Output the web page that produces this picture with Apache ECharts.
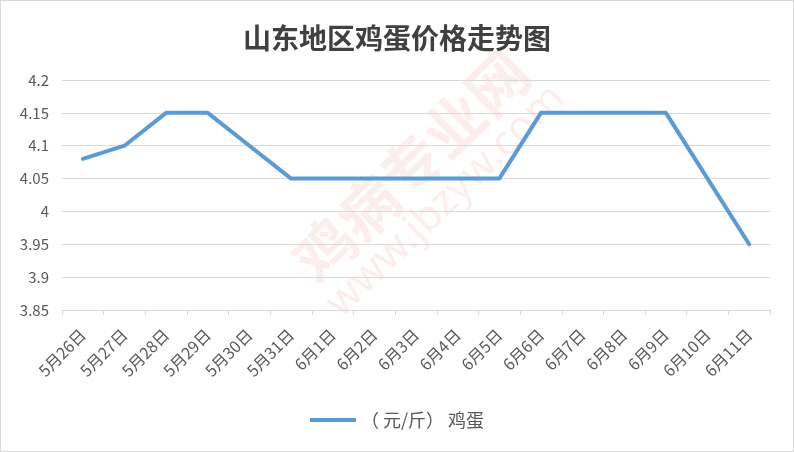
<!DOCTYPE html>
<html><head><meta charset="utf-8">
<script src="https://cdn.jsdelivr.net/npm/echarts@6/dist/echarts.min.js"></script>
<style>html,body{margin:0;padding:0;background:#fff}#c{width:794px;height:452px;box-sizing:border-box;border:1px solid #d9d9d9}</style>
</head><body><div id="c"></div>
<script>
var categories = ['5月26日','5月27日','5月28日','5月29日','5月30日','5月31日','6月1日','6月2日','6月3日','6月4日','6月5日','6月6日','6月7日','6月8日','6月9日','6月10日','6月11日'];
var eggPrice = [4.08,4.10,4.15,4.15,4.10,4.05,4.05,4.05,4.05,4.05,4.05,4.15,4.15,4.15,4.15,4.05,3.95];
var seriesName = '（ 元/斤） 鸡蛋';
var titleText = '山东地区鸡蛋价格走势图';
var watermark1 = '鸡病专业网';
var watermark2 = 'www.jbzyw.com';
var chart = echarts.init(document.getElementById('c'));
var rot = 44 * Math.PI / 180;
chart.setOption({
  animation:false,
  title:{text:titleText,left:'center',top:18,textStyle:{fontFamily:'Noto Sans CJK SC',fontSize:28,fontWeight:'bold',color:'#404040'}},
  legend:{bottom:17,left:'center',itemWidth:46,itemHeight:4,itemGap:10,icon:'rect',textStyle:{fontFamily:'Noto Sans CJK SC',fontSize:18,color:'#595959'},data:[seriesName]},
  grid:{left:61,right:23,top:79,bottom:141},
  graphic:[
    {type:'text',x:410,y:165,rotation:rot,z:-1,silent:true,style:{text:watermark1,fontFamily:'Noto Sans CJK SC',fontWeight:'bold',fontSize:60,fill:'rgba(235,90,90,0.10)',textAlign:'center',textVerticalAlign:'middle'}},
    {type:'text',x:445,y:200,rotation:rot,z:-1,silent:true,style:{text:watermark2,fontFamily:'Noto Sans',fontSize:42,fill:'rgba(235,90,90,0.10)',textAlign:'center',textVerticalAlign:'middle'}}
  ],
  xAxis:{type:'category',data:categories,boundaryGap:true,
    axisLine:{lineStyle:{color:'#d9d9d9',width:1}},
    axisTick:{show:true,alignWithLabel:false,length:5,lineStyle:{color:'#d9d9d9'}},
    axisLabel:{rotate:45,interval:0,fontFamily:'Noto Sans CJK SC',fontSize:16,color:'#595959',margin:22}},
  yAxis:{type:'value',min:3.85,max:4.2,interval:0.05,
    axisLine:{show:false},axisTick:{show:false},
    splitLine:{lineStyle:{color:'#d9d9d9'}},
    axisLabel:{fontFamily:'Noto Sans CJK SC',fontSize:15,color:'#595959',margin:13,formatter:function(v){return String(+v.toFixed(2));}}},
  series:[{name:seriesName,type:'line',data:eggPrice,symbol:'none',lineStyle:{color:'#5b9bd5',width:4,cap:'round',join:'round'},itemStyle:{color:'#5b9bd5'}}]
});
</script></body></html>
